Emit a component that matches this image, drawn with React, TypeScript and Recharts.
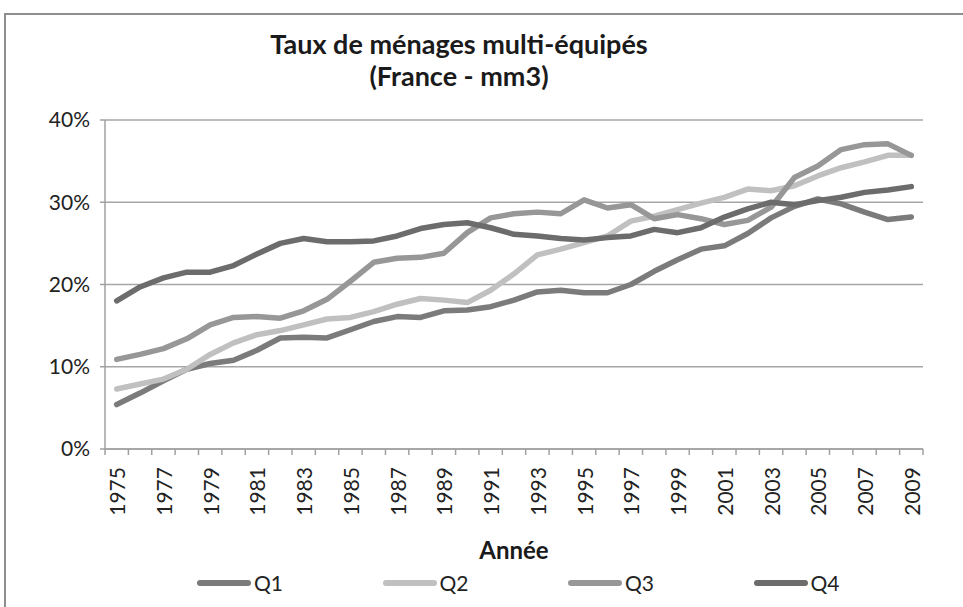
import React from "react";
import { LineChart, Line, XAxis, YAxis, CartesianGrid } from "recharts";

// years on the category axis
const years = [
  "1975", "1976", "1977", "1978", "1979", "1980", "1981", "1982", "1983", "1984",
  "1985", "1986", "1987", "1988", "1989", "1990", "1991", "1992", "1993", "1994",
  "1995", "1996", "1997", "1998", "1999", "2000", "2001", "2002", "2003", "2004",
  "2005", "2006", "2007", "2008", "2009",
];

// share of multi-equipped households, in %
const q1 = [
  5.4, 6.8, 8.3, 9.7, 10.4, 10.8, 12.0, 13.5, 13.6, 13.5,
  14.5, 15.5, 16.1, 16.0, 16.8, 16.9, 17.3, 18.1, 19.1, 19.3,
  19.0, 19.0, 20.0, 21.6, 23.0, 24.3, 24.7, 26.2, 28.1, 29.5,
  30.4, 29.8, 28.8, 27.9, 28.2,
];
const q2 = [
  7.3, 7.9, 8.5, 9.7, 11.5, 12.9, 13.9, 14.4, 15.1, 15.8,
  16.0, 16.7, 17.6, 18.3, 18.1, 17.8, 19.3, 21.3, 23.6, 24.3,
  25.1, 25.9, 27.7, 28.3, 29.1, 29.9, 30.6, 31.6, 31.4, 32.0,
  33.2, 34.2, 34.9, 35.7, 35.7,
];
const q3 = [
  10.9, 11.5, 12.2, 13.4, 15.1, 16.0, 16.1, 15.9, 16.8, 18.2,
  20.4, 22.7, 23.2, 23.3, 23.8, 26.3, 28.1, 28.6, 28.8, 28.6,
  30.3, 29.3, 29.7, 28.0, 28.5, 28.0, 27.3, 27.8, 29.4, 33.0,
  34.4, 36.4, 37.0, 37.1, 35.7,
];
const q4 = [
  18.0, 19.7, 20.8, 21.5, 21.5, 22.3, 23.7, 25.0, 25.6, 25.2,
  25.2, 25.3, 25.9, 26.8, 27.3, 27.5, 26.9, 26.1, 25.9, 25.6,
  25.4, 25.7, 25.9, 26.7, 26.3, 26.9, 28.2, 29.2, 30.0, 29.7,
  30.2, 30.6, 31.2, 31.5, 31.9,
];

const yTicks = [0, 10, 20, 30, 40];

const series = [
  { key: "Q1", color: "#7b7b7b", values: q1 },
  { key: "Q2", color: "#c0c0c0", values: q2 },
  { key: "Q3", color: "#979797", values: q3 },
  { key: "Q4", color: "#6c6c6c", values: q4 },
];

const data = years.map((year, i) => {
  const row: any = { year };
  series.forEach((s) => (row[s.key] = s.values[i]));
  return row;
});

const FONT = "Lato, 'Open Sans', sans-serif";
const AXIS = "#a0a0a0";
const TICK_SIZE = 8;
const TICK_MARGIN = 10;

// label every other year, small tick marks on every category boundary
const YearTick = ({ x, y, payload, index, width }: any) => {
  const step = width / years.length;
  const axisY = y - TICK_SIZE - TICK_MARGIN;
  const last = index === years.length - 1;
  return (
    <g>
      <line x1={x - step / 2} x2={x - step / 2} y1={axisY} y2={axisY + 6} stroke={AXIS} strokeWidth={1.5} />
      {last && (
        <line x1={x + step / 2} x2={x + step / 2} y1={axisY} y2={axisY + 6} stroke={AXIS} strokeWidth={1.5} />
      )}
      {index % 2 === 0 && (
        <text
          x={x}
          y={y}
          transform={`rotate(-90, ${x}, ${y})`}
          textAnchor="end"
          dominantBaseline="central"
          fontSize={21}
          fontFamily={FONT}
          fill="#222"
        >
          {payload.value}
        </text>
      )}
    </g>
  );
};

export default function App() {
  return (
    <div
      style={{
        position: "absolute",
        left: 0,
        top: 0,
        width: 963,
        height: 607,
        overflow: "hidden",
        background: "#fff",
        fontFamily: FONT,
      }}
    >
      {/* chart frame */}
      <div
        style={{
          position: "absolute",
          left: 4,
          top: 13,
          width: 1000,
          height: 1000,
          border: "2px solid #8e8e8e",
        }}
      />

      <div
        style={{
          position: "absolute",
          left: 209,
          width: 500,
          top: 28,
          textAlign: "center",
          fontWeight: 700,
          fontSize: 27,
          lineHeight: "32px",
          color: "#1a1a1a",
        }}
      >
        Taux de ménages multi-équipés
        <br />
        (France - mm3)
      </div>

      <div style={{ position: "absolute", left: 0, top: 0 }}>
        <LineChart
          width={963}
          height={607}
          data={data}
          margin={{ top: 120, right: 40, left: 0, bottom: 78 }}
        >
          <CartesianGrid vertical={false} stroke="#a6a6a6" strokeWidth={1.5} />
          <XAxis
            dataKey="year"
            height={80}
            interval={0}
            padding={{ left: 11.7, right: 11.7 }}
            stroke={AXIS}
            strokeWidth={1.5}
            tickLine={false}
            tickSize={TICK_SIZE}
            tickMargin={TICK_MARGIN}
            tick={<YearTick />}
          />
          <YAxis
            width={105}
            domain={[0, 40]}
            ticks={yTicks}
            tickFormatter={(v) => `${v}%`}
            tickSize={5}
            tickMargin={10}
            stroke={AXIS}
            strokeWidth={1.5}
            tick={{ fontSize: 21, fontFamily: FONT, fill: "#222" }}
          />
          {series.map((s) => (
            <Line
              key={s.key}
              dataKey={s.key}
              stroke={s.color}
              strokeWidth={5.5}
              strokeLinecap="round"
              strokeLinejoin="round"
              dot={false}
              isAnimationActive={false}
            />
          ))}
        </LineChart>
      </div>

      <div
        style={{
          position: "absolute",
          left: 414,
          width: 200,
          top: 535,
          textAlign: "center",
          fontWeight: 700,
          fontSize: 24,
          color: "#1a1a1a",
        }}
      >
        Année
      </div>

      {/* legend */}
      {series.map((s, i) => (
        <div
          key={s.key}
          style={{
            position: "absolute",
            left: 197 + i * 185.5,
            top: 570,
            display: "flex",
            alignItems: "center",
            fontSize: 21,
            color: "#222",
          }}
        >
          <span
            style={{
              display: "inline-block",
              width: 54,
              height: 6,
              borderRadius: 3,
              background: s.color,
              marginRight: 3,
            }}
          />
          {s.key}
        </div>
      ))}
    </div>
  );
}
